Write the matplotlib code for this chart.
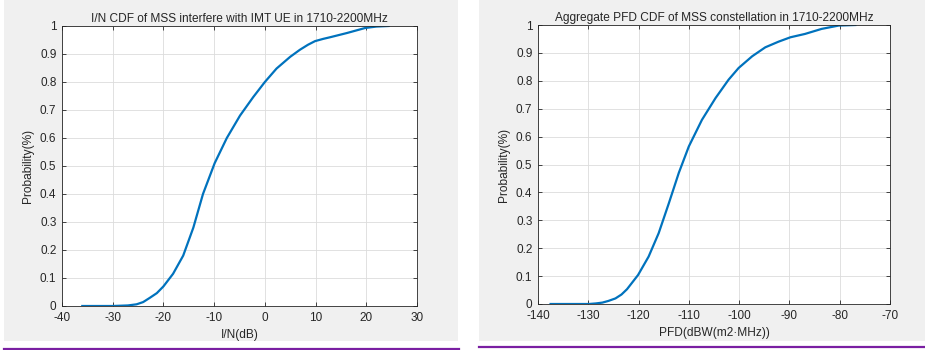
import matplotlib.pyplot as plt
from matplotlib.patches import Rectangle
from matplotlib.lines import Line2D

plt.rcParams['font.family'] = ['Liberation Sans', 'DejaVu Sans']
plt.rcParams['axes.unicode_minus'] = False

# left chart: I/N CDF
in_db = [-36, -30, -27, -25.3, -24, -22.7, -21.3, -20.0, -18.1, -16.1, -14.1, -12.2,
         -9.9, -7.5, -4.9, -2.3, 0, 2.3, 5.0, 6.9, 8.5, 9.9, 11.5, 12.9, 16.2, 19.8,
         22.0, 24.4]
in_cdf = [0, 0, 0.002, 0.006, 0.014, 0.029, 0.046, 0.07, 0.115, 0.18, 0.28, 0.40,
          0.51, 0.60, 0.68, 0.746, 0.80, 0.848, 0.89, 0.915, 0.933, 0.946, 0.954,
          0.96, 0.975, 0.993, 0.998, 1.0]

# right chart: aggregate PFD CDF
pfd = [-137.5, -129.9, -128.5, -127.2, -126, -124.6, -123.4, -122.3, -120.1, -118.0,
       -116.0, -114.0, -112.0, -110.0, -107.4, -104.7, -102.1, -100.1, -97.4, -94.8,
       -92.2, -89.8, -86.9, -83.6, -80.2, -76.9]
pfd_cdf = [0, 0, 0.002, 0.005, 0.011, 0.02, 0.034, 0.053, 0.104, 0.17, 0.254, 0.36,
           0.47, 0.565, 0.66, 0.738, 0.804, 0.846, 0.888, 0.92, 0.94, 0.956, 0.968,
           0.986, 0.998, 1.0]

W, H = 925, 350
fig = plt.figure(figsize=(W / 100, H / 100), dpi=100, facecolor='white')

# grey matlab figure panels
fig.patches.append(Rectangle((4 / W, 1 - 341 / H), 454 / W, 341 / H, transform=fig.transFigure,
                             facecolor='#f0f0f0', edgecolor='none', zorder=-5))
fig.patches.append(Rectangle((479 / W, 1 - 341 / H), 446 / W, 341 / H, transform=fig.transFigure,
                             facecolor='#f0f0f0', edgecolor='none', zorder=-5))
# purple underlines
fig.lines.append(Line2D([4 / W, 459 / W], [1 - 348.5 / H] * 2, transform=fig.transFigure,
                        color='#7a1fa2', lw=1.6))
fig.lines.append(Line2D([479 / W, 1.0], [1 - 347 / H] * 2, transform=fig.transFigure,
                        color='#7a1fa2', lw=1.6))

txt = '#262626'


def style(ax, title, xlabel, xlim, xticks):
    ax.set_xlim(xlim)
    ax.set_ylim(0, 1)
    ax.set_xticks(xticks)
    ax.set_yticks([i / 10 for i in range(11)])
    ax.set_yticklabels(['0'] + ['%.1f' % (i / 10) for i in range(1, 10)] + ['1'])
    ax.grid(True, color='#dcdcdc', lw=0.6)
    ax.set_axisbelow(True)
    for s in ax.spines.values():
        s.set_color(txt)
        s.set_linewidth(0.6)
    ax.tick_params(colors=txt, labelsize=8.5, length=3, width=0.6, direction='in',
                   top=True, right=True, pad=4)
    ax.set_title(title, fontsize=8.6, color=txt, pad=3)
    ax.set_xlabel(xlabel, fontsize=8.6, color=txt, labelpad=4)
    ax.set_ylabel('Probability(%)', fontsize=8.6, color=txt, labelpad=4)


ax1 = fig.add_axes([62 / W, 1 - 306 / H, 355 / W, 280 / H])
ax1.plot(in_db, in_cdf, color='#0072bd', lw=1.6)
style(ax1, 'I/N CDF of MSS interfere with IMT UE in 1710-2200MHz', 'I/N(dB)',
      (-40, 30), range(-40, 31, 10))

ax2 = fig.add_axes([538 / W, 1 - 304 / H, 352 / W, 279 / H])
ax2.plot(pfd, pfd_cdf, color='#0072bd', lw=1.6)
style(ax2, 'Aggregate PFD CDF of MSS constellation in 1710-2200MHz', 'PFD(dBW(m2\u00b7MHz))',
      (-140, -70), range(-140, -69, 10))

fig.savefig('out.png', dpi=100, facecolor='white')
